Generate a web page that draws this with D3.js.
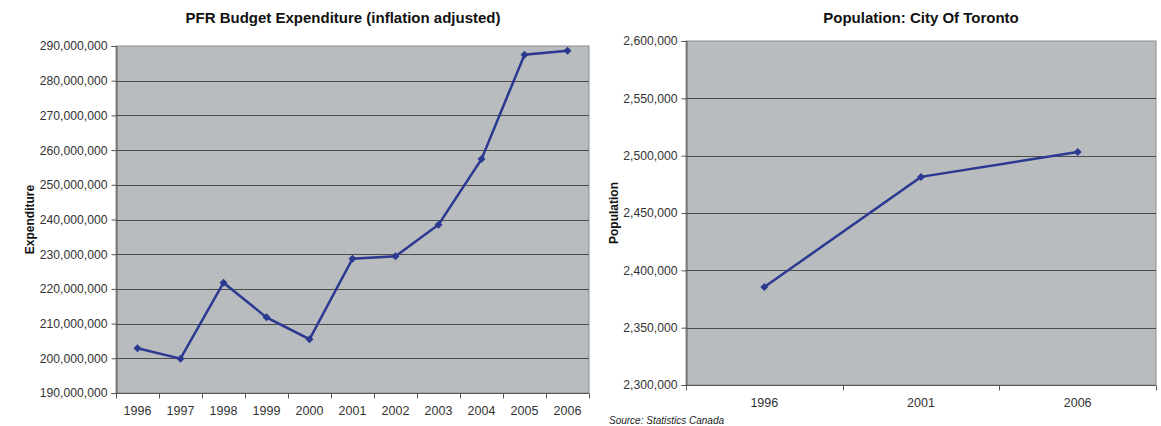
<!DOCTYPE html>
<html>
<head>
<meta charset="utf-8">
<script src="https://cdn.jsdelivr.net/npm/d3@7"></script>
<style>
  body { margin: 0; background: #fff; }
  svg text { font-family: "Liberation Sans", Arial, sans-serif; }
</style>
</head>
<body>
<script>
// data
var budgetYears = ["1996","1997","1998","1999","2000","2001","2002","2003","2004","2005","2006"];
var budgetValues = [202900000, 199900000, 221800000, 211800000, 205500000, 228700000, 229400000, 238500000, 257400000, 287500000, 288600000];
var budgetTicks = [190000000, 200000000, 210000000, 220000000, 230000000, 240000000, 250000000, 260000000, 270000000, 280000000, 290000000];

var popYears = ["1996","2001","2006"];
var popValues = [2385421, 2481494, 2503281];
var popTicks = [2300000, 2350000, 2400000, 2450000, 2500000, 2550000, 2600000];

var svg = d3.select("body").append("svg")
  .attr("width", 1161)
  .attr("height", 426);

var fmt = d3.format(",");
var lineColor = "#2b3990";

function drawChart(opt) {
  var g = svg.append("g");
  var x = d3.scaleBand().domain(opt.cats).range([opt.x0, opt.x1]);
  var y = d3.scaleLinear().domain([opt.ticks[0], opt.ticks[opt.ticks.length - 1]]).range([opt.y1, opt.y0]);

  // plot background
  g.append("rect")
    .attr("x", opt.x0).attr("y", opt.y0)
    .attr("width", opt.x1 - opt.x0).attr("height", opt.y1 - opt.y0)
    .attr("fill", "#b9bcbf")
    .attr("stroke", "#8a8d90")
    .attr("stroke-width", 1);

  // gridlines
  g.selectAll(".grid").data(opt.ticks.slice(1, -1)).enter().append("line")
    .attr("x1", opt.x0).attr("x2", opt.x1)
    .attr("y1", function (d) { return Math.round(y(d)) + 0.5; })
    .attr("y2", function (d) { return Math.round(y(d)) + 0.5; })
    .attr("stroke", "#4a4c4e")
    .attr("stroke-width", 1);

  // y axis
  var ya = g.append("g")
    .attr("transform", "translate(" + (opt.x0 + 0.5) + ",0)")
    .call(d3.axisLeft(y).tickValues(opt.ticks).tickFormat(fmt).tickSize(5).tickPadding(4));
  ya.select(".domain").attr("stroke", "#555");
  ya.selectAll(".tick line").attr("stroke", "#555");
  ya.selectAll("text").attr("fill", "#333").attr("font-size", 12.2);

  // x axis, ticks between categories
  var xa = g.append("g")
    .attr("transform", "translate(0," + (opt.y1 + 0.5) + ")");
  xa.append("line").attr("x1", opt.x0).attr("x2", opt.x1).attr("stroke", "#555");
  var bounds = opt.cats.map(function (c) { return x(c); }).concat([opt.x1]);
  xa.selectAll(".xt").data(bounds).enter().append("line")
    .attr("x1", function (d) { return Math.round(d) + 0.5; })
    .attr("x2", function (d) { return Math.round(d) + 0.5; })
    .attr("y1", 0).attr("y2", 5)
    .attr("stroke", "#555");
  xa.selectAll(".xl").data(opt.cats).enter().append("text")
    .attr("x", function (d) { return x(d) + x.bandwidth() / 2; })
    .attr("y", 21)
    .attr("text-anchor", "middle")
    .attr("font-size", 12.5)
    .attr("fill", "#333")
    .text(function (d) { return d; });

  // line + markers
  var pts = opt.cats.map(function (c, i) { return [x(c) + x.bandwidth() / 2, y(opt.values[i])]; });
  g.append("path")
    .attr("d", d3.line()(pts))
    .attr("fill", "none")
    .attr("stroke", lineColor)
    .attr("stroke-width", 2.5);
  g.selectAll(".pt").data(pts).enter().append("path")
    .attr("transform", function (d) { return "translate(" + d[0] + "," + d[1] + ") rotate(45)"; })
    .attr("d", d3.symbol().type(d3.symbolSquare).size(32))
    .attr("fill", lineColor);

  // titles
  g.append("text")
    .attr("x", opt.titleX).attr("y", 23)
    .attr("text-anchor", "middle")
    .attr("font-size", 15).attr("font-weight", "bold")
    .attr("fill", "#111")
    .text(opt.title);
  g.append("text")
    .attr("transform", "translate(" + opt.labelX + "," + ((opt.y0 + opt.y1) / 2) + ") rotate(-90)")
    .attr("text-anchor", "middle")
    .attr("font-size", 12).attr("font-weight", "bold")
    .attr("fill", "#111")
    .text(opt.yLabel);
}

drawChart({
  cats: budgetYears, values: budgetValues, ticks: budgetTicks,
  x0: 116, x1: 589, y0: 46, y1: 393,
  title: "PFR Budget Expenditure (inflation adjusted)", titleX: 343,
  yLabel: "Expenditure", labelX: 34
});

drawChart({
  cats: popYears, values: popValues, ticks: popTicks,
  x0: 686, x1: 1156, y0: 41, y1: 385,
  title: "Population: City Of Toronto", titleX: 921,
  yLabel: "Population", labelX: 618
});

svg.append("text")
  .attr("x", 609).attr("y", 424)
  .attr("font-size", 10).attr("font-style", "italic")
  .attr("fill", "#222")
  .text("Source: Statistics Canada");
</script>
</body>
</html>
